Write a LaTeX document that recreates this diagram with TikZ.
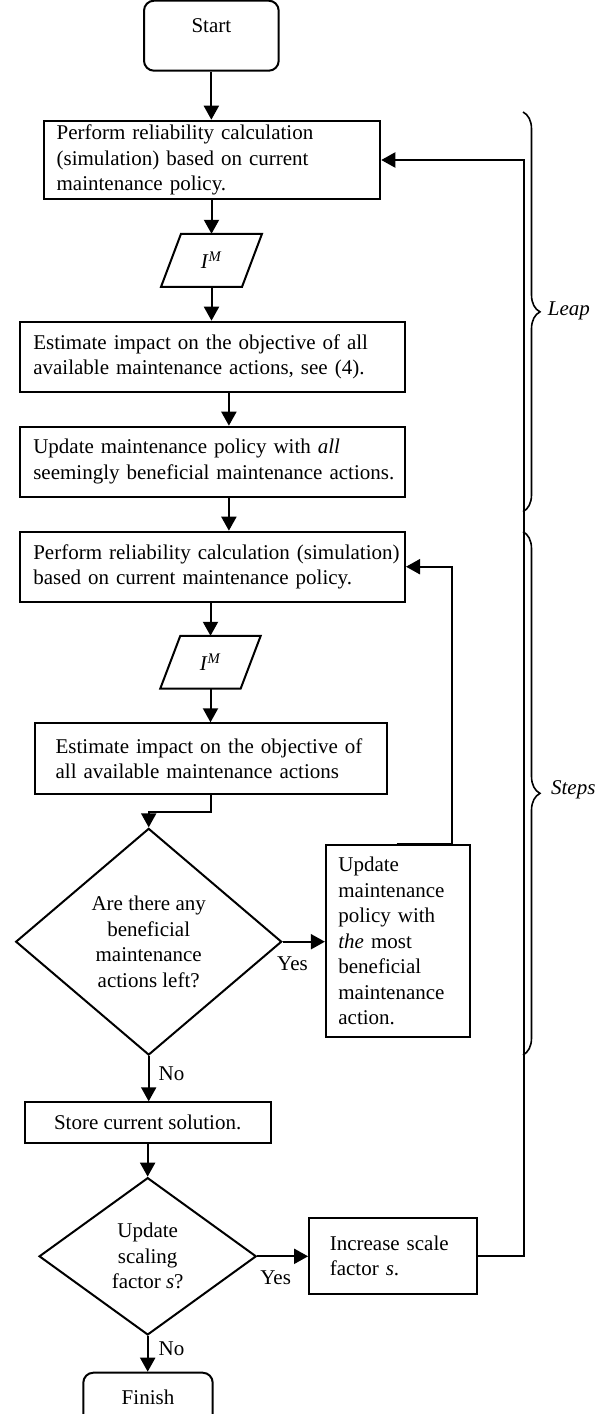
\documentclass[tikz,border=0pt]{standalone}
\usepackage{fontspec}
\setmainfont{Liberation Serif}
\usetikzlibrary{arrows.meta,shapes.geometric,decorations.pathreplacing,calc}
\begin{document}
\begin{tikzpicture}[x=1pt,y=-1pt,
  font=\fontsize{21pt}{25.5pt}\selectfont,
  lw/.style={line width=2pt},
  box/.style={draw, lw, rectangle, inner ysep=0pt, align=left},
  cbox/.style={draw, lw, rectangle, inner sep=0pt, align=center},
  rbox/.style={draw, lw, rectangle, rounded corners=10pt, inner sep=0pt},
  dec/.style={draw, lw, diamond, inner sep=0pt, align=center},
  arr/.style={lw, -{Triangle[length=14pt,width=15pt]}},
  lab/.style={inner sep=0pt, anchor=west},
  brc/.style={line width=1.6pt, decorate, decoration={brace, amplitude=17pt}}]
\useasboundingbox (0,0) rectangle (613,1414);
\clip (0,0) rectangle (613,1414);

% Start
\node[rbox, minimum width=134.7pt, minimum height=70pt] (start) at (211.35,35.7) {};
\node[inner sep=0pt] (starttext) at (211.35,25.6) {Start};

% Leap part
\node[box, minimum width=336.5pt, minimum height=78.6pt, text width=310.7pt, inner xsep=12.9pt] (b1) at (212,160)
  {\mbox{Perform reliability calculation}\\\mbox{(simulation) based on current}\\\mbox{maintenance policy.}};
\node[minimum width=80.6pt, minimum height=52.7pt, inner sep=0pt] (p1) at (211.5,260.35) {\textit{I}\textsuperscript{\textit{M}}};
\draw[lw] ([xshift=-10pt]p1.south west) -- ([xshift=10pt]p1.north west) -- ([xshift=10pt]p1.north east) -- ([xshift=-10pt]p1.south east) -- cycle;
\node[box, minimum width=385.4pt, minimum height=70pt, text width=358pt, inner xsep=13.7pt] (b2) at (212.3,356.7)
  {\mbox{Estimate impact on the objective of all}\\\mbox{available maintenance actions, see (4).}};
\node[box, minimum width=385.4pt, minimum height=70pt, text width=358pt, inner xsep=13.7pt] (b3) at (212.3,461.7)
  {\mbox{Update maintenance policy with \textit{all}}\\\mbox{seemingly beneficial maintenance actions.}};

% Steps part
\node[box, minimum width=385.4pt, minimum height=70pt, text width=358pt, inner xsep=13.7pt] (b4) at (212.3,566.7)
  {\mbox{Perform reliability calculation (simulation)}\\\mbox{based on current maintenance policy.}};
\node[minimum width=80pt, minimum height=52.3pt, inner sep=0pt] (p2) at (210.5,662.15) {\textit{I}\textsuperscript{\textit{M}}};
\draw[lw] ([xshift=-10pt]p2.south west) -- ([xshift=10pt]p2.north west) -- ([xshift=10pt]p2.north east) -- ([xshift=-10pt]p2.south east) -- cycle;
\node[box, minimum width=351.3pt, minimum height=70.7pt, text width=310.5pt, inner xsep=20.4pt] (b5) at (210.85,758.65)
  {\mbox{Estimate impact on the objective of}\\\mbox{all available maintenance actions}};
\node[dec, minimum width=266pt, minimum height=226.7pt, aspect=1.17] (d1) at (148.7,941.7)
  {Are there any\\beneficial\\maintenance\\actions left?};
\node[box, minimum width=144.4pt, minimum height=192.3pt, text width=119.4pt, inner xsep=12.5pt] (b6) at (398.1,941.15)
  {\mbox{Update}\\\mbox{maintenance}\\\mbox{policy with}\\\mbox{\textit{the} most}\\\mbox{beneficial}\\\mbox{maintenance}\\\mbox{action.}};

% Final part
\node[cbox, minimum width=246.1pt, minimum height=41pt] (store) at (147.65,1122.8) {Store current solution.};
\node[dec, minimum width=217.2pt, minimum height=157.3pt, aspect=1.38] (d2) at (147.7,1256.3)
  {Update\\scaling\\factor \textit{s}?};
\node[box, minimum width=167.6pt, minimum height=76pt, text width=126.2pt, inner xsep=20.7pt] (b7) at (392.9,1256)
  {\mbox{Increase scale}\\\mbox{factor \textit{s}.}};
\node[rbox, minimum width=129.4pt, minimum height=60pt] (finish) at (148,1402.7) {};
\node[inner sep=0pt] (finishtext) at (148,1397.5) {Finish};

% labels
\node[lab] (yes1) at (277,964) {Yes};
\node[lab] (no1) at (158.5,1074) {No};
\node[lab] (yes2) at (260.2,1278) {Yes};
\node[lab] (no2) at (158.5,1349) {No};

% connectors
\draw[arr] (start.south) -- (start.south |- b1.north);
\draw[arr] (p1.north |- b1.south) -- (p1.north);
\draw[arr] (p1.south) -- (p1.south |- b2.north);
\draw[arr] ([xshift=16.6pt]b2.south) -- ([xshift=16.6pt]b3.north);
\draw[arr] ([xshift=16.6pt]b3.south) -- ([xshift=16.6pt]b4.north);
\draw[arr] (p2.north |- b4.south) -- (p2.north);
\draw[arr] (p2.south) -- (p2.south |- b5.north);
\draw[arr] (b5.south) -- ++(0,16.7) -| (d1.north);
\draw[arr] (d1.east) -- (d1.east -| b6.west);
\draw[arr] (d1.south) -- (d1.south |- store.north);
\draw[arr] (store.south) -- (store.south |- d2.north);
\draw[arr] (d2.east) -- (d2.east -| b7.west);
\draw[arr] (d2.south) -- (d2.south |- finish.north);

\coordinate (fb1s) at (396.7,844);
\coordinate (fb1) at (451.7,844);
\draw[arr] (fb1s) -- (fb1) |- (b4.east);
\coordinate (fb2) at (524,1256);
\draw[arr] (b7.east) -- (fb2) |- (b1.east);

% braces
\coordinate (leapTop) at (523,112);
\coordinate (leapBot) at (523,511.7);
\coordinate (stepsTop) at (523,531.7);
\coordinate (stepsBot) at (523,1055);
\draw[brc] (leapTop) -- (leapBot);
\draw[brc] (stepsTop) -- (stepsBot);
\node[lab] (leap) at (547.7,311) {\textit{Leap}};
\node[lab] (steps) at (550.9,790) {\textit{Steps}};
\end{tikzpicture}
\end{document}
